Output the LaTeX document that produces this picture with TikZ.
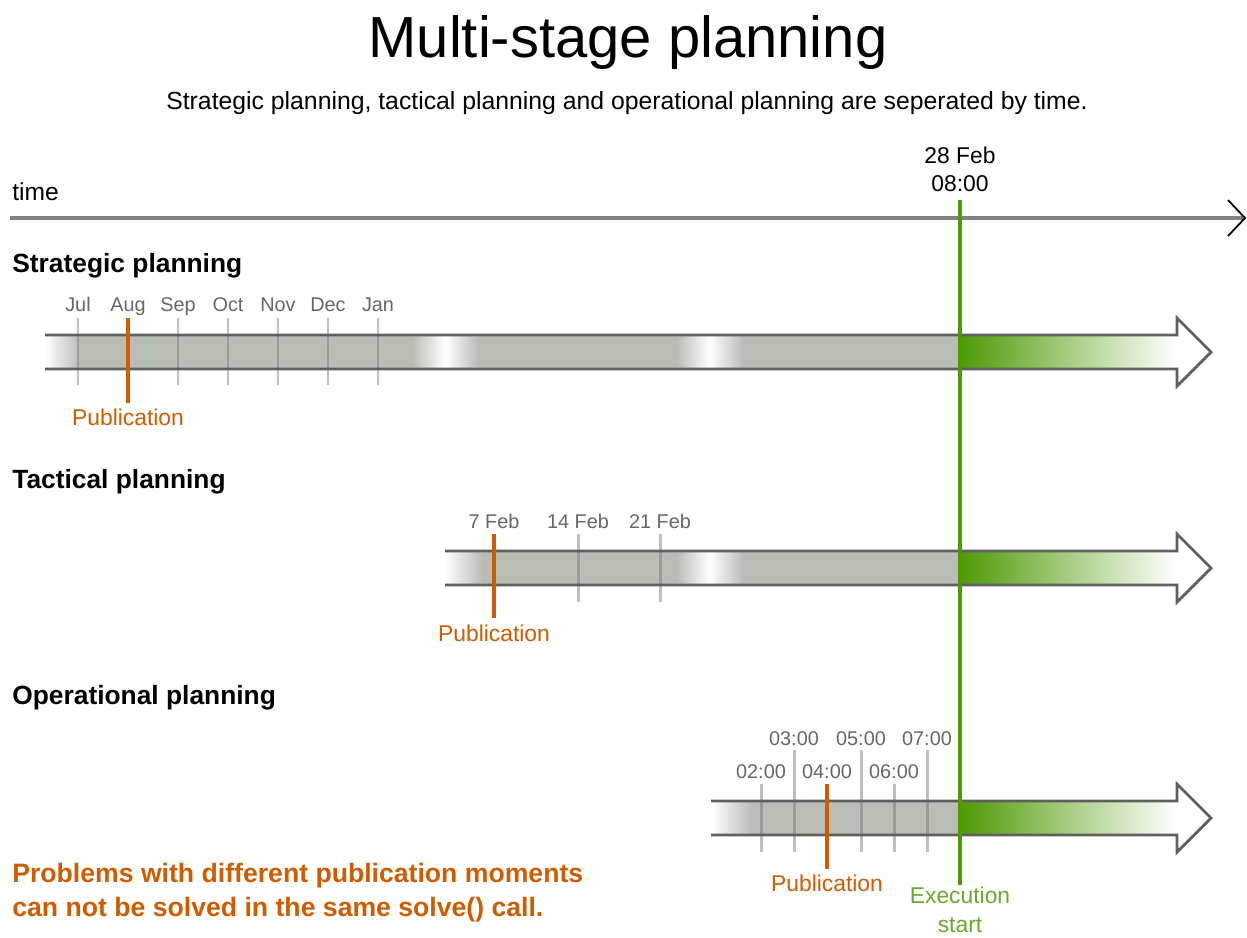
\documentclass[tikz,border=0pt]{standalone}
\usepackage{fontspec}
\setmainfont{Liberation Sans}
\usepackage{xcolor}
\usetikzlibrary{positioning}
\definecolor{bargray}{HTML}{BABDB6}
\definecolor{puborange}{HTML}{CE5C00}
\definecolor{execgreen}{HTML}{4E9A06}
\definecolor{labgray}{HTML}{666666}
\definecolor{rimgray}{HTML}{5F605C}

\begin{document}
\begin{tikzpicture}[x=0.02cm,y=-0.02cm,
  lab/.style={inner sep=0pt, anchor=base, text=labgray, font=\fontsize{11.3}{13}\selectfont},
  stage/.style={inner sep=0pt, anchor=base west, font=\bfseries\fontsize{15}{18}\selectfont},
  pub/.style={inner sep=0pt, anchor=base, text=puborange, font=\fontsize{13}{16}\selectfont},
  tick/.style={line width=1.7pt, black!55, opacity=.45},
  pubtick/.style={line width=2pt, puborange},
  rim/.style={line width=1.6pt, rimgray, line join=miter}]

\useasboundingbox[fill=white] (0,0) rectangle (1247,937);

% title
\node[inner sep=0pt, anchor=base, font=\fontsize{33}{40}\selectfont] (title) at (628,57) {Multi-stage planning};
\node[inner sep=0pt, anchor=base, font=\fontsize{14.1}{17}\selectfont] (subtitle) at (627,109) {Strategic planning, tactical planning and operational planning are seperated by time.};

% time axis
\node[inner sep=0pt, anchor=base west, font=\fontsize{14}{17}\selectfont] (time) at (12,200) {time};
\coordinate (t0) at (10,218);
\coordinate (t1) at (1243,218);
\draw[line width=1.8pt, black!50] (t0) -- (t1);
\draw[line width=1pt] (1228,200) -- (1245,218) -- (1228,236);
\node[inner sep=0pt, align=center, font=\fontsize{13}{15.9}\selectfont] (now) at (960,169) {28 Feb\\08:00};

% strategic planning
\node[stage] (strat) at (12,272) {Strategic planning};
\fill[bargray] (45,335) rectangle (960,369);
\shade[left color=white, right color=bargray] (45,335) rectangle (80,369);
\shade[left color=bargray, right color=white] (412,335) rectangle (445,369);
\shade[left color=white, right color=bargray] (445,335) rectangle (478,369);
\shade[left color=bargray, right color=white] (677,335) rectangle (710,369);
\shade[left color=white, right color=bargray] (710,335) rectangle (743,369);
\shade[left color=execgreen, right color=white] (960,335) rectangle (1177,369);
\draw[tick] (78,318) -- (78,385);
\draw[tick] (178,318) -- (178,385);
\draw[tick] (228,318) -- (228,385);
\draw[tick] (278,318) -- (278,385);
\draw[tick] (328,318) -- (328,385);
\draw[tick] (378,318) -- (378,385);
\draw[rim] (45,335) -- (1177,335) -- (1177,318) -- (1211,352) -- (1177,386) -- (1177,369) -- (45,369);
\draw[pubtick] (128,318) -- (128,403);
\node[lab] (jul) at (78,311) {Jul};
\node[lab] (aug) at (128,311) {Aug};
\node[lab] (sep) at (178,311) {Sep};
\node[lab] (oct) at (228,311) {Oct};
\node[lab] (nov) at (278,311) {Nov};
\node[lab] (dec) at (328,311) {Dec};
\node[lab] (jan) at (378,311) {Jan};
\node[pub] (stratpub) at (128,425) {Publication};

% tactical planning
\node[stage] (tact) at (12,488) {Tactical planning};
\fill[bargray] (445,551) rectangle (960,585);
\shade[left color=white, right color=bargray] (445,551) rectangle (482,585);
\shade[left color=bargray, right color=white] (677,551) rectangle (710,585);
\shade[left color=white, right color=bargray] (710,551) rectangle (743,585);
\shade[left color=execgreen, right color=white] (960,551) rectangle (1177,585);
\draw[tick] (578,534) -- (578,602);
\draw[tick] (660,534) -- (660,602);
\draw[rim] (445,551) -- (1177,551) -- (1177,534) -- (1211,568) -- (1177,602) -- (1177,585) -- (445,585);
\draw[pubtick] (494,534) -- (494,618);
\node[lab] (feb7) at (494,528) {7 Feb};
\node[lab] (feb14) at (578,528) {14 Feb};
\node[lab] (feb21) at (660,528) {21 Feb};
\node[pub] (tactpub) at (494,641) {Publication};

% operational planning
\node[stage] (oper) at (12,704) {Operational planning};
\fill[bargray] (711,801) rectangle (960,835);
\shade[left color=white, right color=bargray] (711,801) rectangle (752,835);
\shade[left color=execgreen, right color=white] (960,801) rectangle (1177,835);
\draw[tick] (761,784) -- (761,852);
\draw[tick] (794,750) -- (794,852);
\draw[tick] (861,750) -- (861,852);
\draw[tick] (894,784) -- (894,852);
\draw[tick] (927,750) -- (927,852);
\draw[rim] (711,801) -- (1177,801) -- (1177,784) -- (1211,818) -- (1177,852) -- (1177,835) -- (711,835);
\draw[pubtick] (827,784) -- (827,869);
\node[lab] (h3) at (794,745) {03:00};
\node[lab] (h5) at (861,745) {05:00};
\node[lab] (h7) at (927,745) {07:00};
\node[lab] (h2) at (761,778) {02:00};
\node[lab] (h4) at (827,778) {04:00};
\node[lab] (h6) at (894,778) {06:00};
\node[pub] (operpub) at (827,891) {Publication};

% execution start
\coordinate (exectop) at (960,200);
\coordinate (execbot) at (960,885);
\draw[line width=2pt, execgreen] (exectop) -- (execbot);
\node[inner sep=0pt, align=center, text=execgreen!85, font=\fontsize{13}{16.2}\selectfont] (exec) at (960,910) {Execution\\start};

% note
\node[inner sep=0pt, anchor=west, align=left, text=puborange, font=\bfseries\fontsize{15.15}{19.3}\selectfont] (note) at (12,893) {Problems with different publication moments\\can not be solved in the same solve() call.};

\end{tikzpicture}
\end{document}
